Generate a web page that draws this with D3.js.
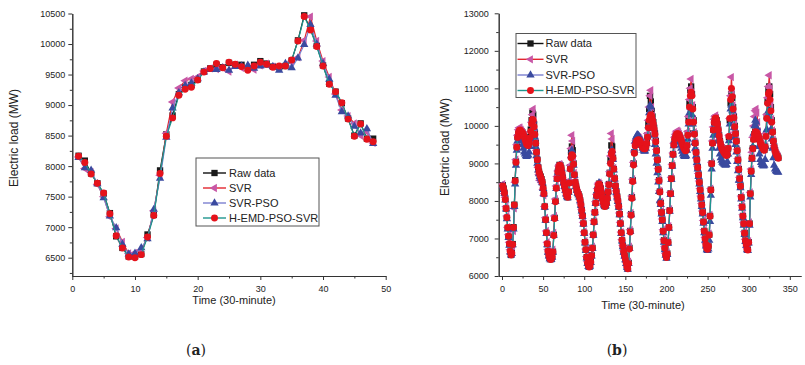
<!DOCTYPE html>
<html>
<head>
<meta charset="utf-8">
<script src="https://cdn.jsdelivr.net/npm/d3@7"></script>
<style>
  body { margin: 0; background: #fff; }
  text { font-family: "Liberation Sans", Arial, sans-serif; fill: #222; }
</style>
</head>
<body>
<svg id="chart" width="805" height="365"></svg>
<script>
// ---- data ----
const seriesNames = ["Raw data", "SVR", "SVR-PSO", "H-EMD-PSO-SVR"];

// panel (a): one day, 48 half-hour points, t = 1..48
const aXTicks = [0, 10, 20, 30, 40, 50];
const aYTicks = [6500, 7000, 7500, 8000, 8500, 9000, 9500, 10000, 10500];
const aRaw = [8170,8090,7880,7720,7550,7230,6850,6660, 6520,6520,6560,6880,7200,7930,8520,8830,
  9180,9290,9330,9420,9550,9600,9660,9620, 9690,9660,9660,9600,9660,9720,9680,9630,
  9620,9640,9730,10060,10470,10240,9970,9650, 9350,9220,9030,8780,8500,8700,8450,8450];
const aSvr = [8150,7960,7900,7700,7500,7170,6980,6760, 6570,6580,6620,6830,7270,7850,8540,9050,
  9280,9400,9430,9460,9560,9600,9590,9610, 9550,9660,9610,9620,9580,9650,9680,9630,
  9610,9660,9700,9780,10060,10450,10050,9720, 9460,9180,8920,8820,8700,8500,8560,8380];
const aPso = [8140,7970,7930,7710,7480,7180,6990,6720, 6560,6570,6660,6810,7290,7800,8470,8950,
  9200,9320,9360,9430,9540,9580,9580,9610, 9570,9630,9640,9650,9600,9640,9650,9630,
  9570,9680,9610,9770,9990,10320,10000,9680, 9420,9160,8890,8820,8650,8540,8610,8370];
const aEmd = [8160,8060,7870,7720,7560,7220,6860,6660, 6510,6500,6550,6840,7190,7880,8490,8790,
  9160,9260,9290,9410,9540,9600,9680,9610, 9700,9670,9630,9570,9640,9700,9670,9620,
  9640,9640,9740,10050,10450,10230,9960,9640, 9340,9220,9040,8770,8490,8690,8440,8400];

// panel (b): one week, 336 half-hour points, t = 1..336 (one line per day)
const bXTicks = [0, 50, 100, 150, 200, 250, 300, 350];
const bYTicks = [6000, 7000, 8000, 9000, 10000, 11000, 12000, 13000];
const bRaw = [
  8420,8330,8220,8050,7800,7550,7280,7050,6850,6650,6560,6620,6850,7300,7900,8550,9050,9450,9700,9820,9880,9900,9860,9850,9820,9780,9720,9650,9580,9520,9500,9480,9560,9700,9900,10150,10350,10300,10050,9800,9550,9300,9100,8900,8780,8700,8650,8580,
  8500,8350,8200,7850,7500,7150,6850,6650,6550,6480,6450,6460,6520,6650,7100,7550,8000,8350,8600,8780,8900,8960,8950,8880,8750,8620,8500,8400,8300,8200,8130,8100,8250,8500,8900,9300,9450,9350,9000,8700,8500,8400,8300,8220,8180,8120,8020,7900,
  7750,7600,7400,7150,6900,6700,6500,6350,6270,6250,6280,6380,6550,6750,7100,7450,7700,7950,8150,8300,8420,8460,8420,8330,8200,8080,7980,7900,7860,7880,7950,8080,8250,8450,8750,9100,9480,9450,9150,8850,8600,8400,8250,8120,8000,7850,7650,7400,
  7150,6950,6800,6650,6550,6450,6350,6250,6200,6350,6750,7200,7650,8100,8550,9000,9300,9500,9580,9620,9640,9650,9640,9600,9550,9500,9450,9420,9400,9400,9450,9550,9750,10050,10450,10800,10650,10400,10250,10100,9950,9800,9600,9350,9100,8850,8550,8250,
  7950,7700,7500,7200,6950,6750,6580,6500,6600,6900,7300,7750,8200,8600,8950,9250,9500,9650,9720,9780,9800,9800,9780,9740,9680,9620,9550,9480,9420,9380,9350,9360,9500,9800,10200,10600,10950,11050,10850,10500,10150,9800,9550,9300,9100,8900,8700,8500,
  8300,8100,7900,7700,7450,7200,7000,6850,6750,6720,6800,7100,7600,8300,9000,9550,9900,10100,10200,10220,10150,10050,9900,9750,9600,9500,9430,9380,9340,9300,9270,9250,9220,9250,9400,9700,10150,10600,10850,10750,10500,10250,10000,9800,9600,9350,9100,8850,
  8600,8400,8100,7850,7600,7400,7150,6950,6850,6720,6700,6900,7400,8200,8800,9150,9400,9650,9780,9850,9850,9820,9780,9720,9650,9580,9520,9470,9420,9380,9360,9450,9750,10250,10650,10950,11050,10850,10500,10150,9850,9600,9450,9350,9280,9230,9200,9150];
const bSvr = [
  8450,8350,8200,8100,7850,7600,7300,7100,6900,6700,6600,6600,6800,7200,7800,8500,9100,9500,9750,9900,9950,9950,9900,9870,9830,9800,9750,9680,9600,9550,9520,9500,9550,9650,9850,10100,10300,10450,10150,9850,9600,9350,9150,8900,8700,8550,8550,8500,
  8450,8300,8150,7850,7550,7200,6900,6700,6580,6500,6470,6480,6550,6700,7150,7600,8050,8400,8650,8800,8930,8980,8970,8900,8780,8650,8530,8420,8320,8230,8150,8120,8250,8550,8950,9400,9750,9600,9100,8750,8550,8420,8320,8240,8200,8140,8050,7920,
  7780,7620,7430,7180,6930,6720,6520,6380,6290,6270,6300,6400,6570,6780,7120,7480,7730,7980,8180,8330,8450,8490,8450,8360,8230,8100,8000,7920,7880,7900,7970,8100,8280,8480,8780,9200,9800,9650,9200,8880,8620,8420,8270,8140,8020,7870,7680,7430,
  7170,6970,6820,6670,6570,6470,6370,6270,6230,6380,6780,7230,7680,8130,8580,9030,9330,9530,9620,9660,9690,9700,9680,9640,9580,9530,9480,9450,9430,9430,9480,9600,9800,10150,10500,10800,10950,10500,10280,10120,9970,9820,9620,9370,9120,8870,8570,8270,
  7980,7730,7520,7230,6980,6780,6600,6530,6630,6930,7330,7780,8230,8630,8980,9280,9540,9700,9780,9840,9870,9860,9830,9780,9720,9650,9580,9500,9440,9400,9370,9390,9530,9850,10250,10700,11000,11250,10900,10550,10180,9830,9580,9330,9130,8930,8730,8530,
  8330,8130,7930,7730,7480,7230,7030,6880,6780,6750,6830,7130,7630,8330,9030,9600,9970,10180,10260,10280,10200,10080,9930,9780,9630,9530,9460,9410,9370,9330,9300,9280,9250,9280,9430,9750,10200,10800,11300,10900,10550,10300,10050,9830,9630,9380,9130,8880,
  8630,8430,8130,7880,7630,7430,7180,6980,6880,6750,6730,6930,7430,8230,8850,9300,9700,10000,10250,10400,10450,10350,10100,9850,9700,9620,9560,9500,9450,9410,9390,9480,9800,10300,10750,11050,11350,11000,10550,10180,9880,9630,9480,9380,9310,9260,9230,9180];
const bPso = [
  8400,8300,8200,8020,7780,7520,7250,7020,6820,6640,6560,6600,6830,7250,7850,8450,8950,9350,9600,9700,9720,9700,9650,9600,9500,9400,9300,9250,9200,9180,9200,9220,9300,9450,9650,9900,10050,10150,9950,9700,9450,9200,9000,8820,8720,8650,8600,8550,
  8480,8330,8180,7830,7480,7130,6830,6630,6530,6460,6430,6440,6500,6630,7080,7530,7980,8330,8580,8760,8880,8940,8930,8860,8730,8600,8480,8380,8280,8180,8110,8080,8230,8470,8850,9200,9350,9250,8950,8680,8480,8380,8280,8200,8160,8100,8000,7880,
  7730,7580,7380,7130,6880,6680,6480,6330,6250,6230,6260,6360,6530,6730,7080,7430,7680,7930,8130,8280,8400,8480,8440,8340,8200,8070,7970,7890,7850,7870,7940,8070,8240,8430,8720,9050,9350,9350,9100,8820,8580,8380,8230,8100,7980,7830,7630,7380,
  7130,6930,6780,6630,6530,6430,6330,6230,6180,6330,6730,7180,7630,8080,8530,8980,9350,9600,9700,9750,9760,9740,9700,9650,9570,9480,9400,9350,9320,9330,9400,9520,9700,10000,10350,10550,10500,10250,10100,9920,9750,9500,9250,9000,8750,8500,8250,8000,
  7900,7650,7450,7150,6900,6700,6550,6470,6570,6870,7270,7720,8170,8570,8920,9220,9470,9600,9650,9680,9680,9660,9620,9560,9480,9400,9320,9250,9200,9180,9180,9200,9350,9650,10050,10350,10500,10450,10300,10050,9800,9550,9400,9200,9020,8850,8650,8450,
  8250,8050,7850,7650,7400,7150,6950,6800,6700,6680,6720,6950,7450,8150,8850,9400,9750,9950,10050,10050,9950,9800,9600,9400,9250,9150,9080,9030,9000,8980,8960,8950,8970,9050,9250,9600,10050,10450,10550,10400,10200,9950,9700,9500,9300,9050,8800,8550,
  8550,8350,8050,7800,7550,7350,7100,6920,6820,6700,6680,6880,7350,8100,8700,9100,9450,9800,10000,10150,10100,9950,9700,9450,9250,9100,9020,8970,8950,8930,8950,9100,9450,9900,10250,10400,10350,10150,9900,9650,9400,9150,8950,8850,8800,8780,8770,8760];
const bEmd = [
  8400,8320,8210,8040,7800,7560,7290,7060,6860,6660,6560,6610,6840,7290,7890,8530,9030,9430,9690,9810,9870,9890,9860,9840,9810,9770,9710,9640,9570,9510,9490,9480,9550,9680,9850,10050,10170,10150,9980,9770,9540,9300,9100,8900,8780,8700,8640,8570,
  8490,8340,8190,7850,7500,7150,6860,6660,6550,6470,6440,6450,6510,6640,7080,7530,7980,8340,8590,8770,8890,8950,8940,8870,8740,8610,8490,8390,8290,8200,8130,8100,8240,8480,8850,9150,9230,9200,8980,8700,8500,8400,8300,8220,8180,8120,8020,7900,
  7750,7600,7400,7150,6900,6700,6500,6350,6270,6240,6270,6370,6540,6740,7090,7440,7690,7940,8140,8290,8410,8450,8410,8320,8190,8070,7970,7890,7850,7870,7940,8070,8240,8430,8720,9000,9250,9320,9130,8850,8600,8400,8250,8120,8000,7850,7650,7400,
  7150,6950,6800,6650,6550,6450,6350,6250,6190,6330,6720,7170,7620,8070,8520,8960,9270,9470,9560,9600,9620,9630,9620,9580,9530,9480,9430,9400,9390,9390,9440,9530,9700,9950,10150,10250,10300,10250,10150,10050,9920,9780,9580,9340,9090,8840,8540,8240,
  7930,7690,7490,7190,6940,6740,6570,6490,6590,6890,7290,7740,8190,8590,8940,9240,9490,9640,9710,9770,9790,9790,9770,9730,9670,9610,9540,9470,9410,9370,9340,9350,9480,9750,10100,10500,10800,10900,10800,10450,10100,9780,9540,9290,9090,8890,8690,8490,
  8290,8090,7890,7690,7440,7190,6990,6840,6740,6710,6790,7090,7590,8290,8990,9540,9890,10090,10190,10210,10140,10040,9890,9740,9590,9490,9420,9370,9330,9290,9260,9240,9210,9240,9400,9720,10200,10700,11000,10780,10450,10220,9980,9790,9590,9340,9090,8840,
  8590,8390,8090,7840,7590,7390,7140,6940,6840,6710,6690,6890,7390,8190,8790,9140,9390,9640,9770,9840,9840,9810,9770,9710,9640,9570,9510,9460,9410,9370,9350,9440,9720,10200,10600,10850,10900,10700,10400,10100,9830,9590,9440,9340,9270,9220,9190,9140];

// ---- styles ----
const styles = [
  { line: "#111111", fill: "#1a1a1a", symbol: d3.symbolSquare, size: 40, rot: 0 },
  { line: "#e3262f", fill: "#c857a6", symbol: d3.symbolTriangle, size: 30, rot: -90 },
  { line: "#7b80d0", fill: "#3a4a9f", symbol: d3.symbolTriangle, size: 30, rot: 0 },
  { line: "#1f968e", fill: "#e5121b", symbol: d3.symbolCircle, size: 38, rot: 0 }
];

const svg = d3.select("#chart");
svg.append("rect").attr("width", 805).attr("height", 365).attr("fill", "#fff");

function drawPanel(o) {
  const x = d3.scaleLinear().domain(o.xDomain).range(o.xRange);
  const y = d3.scaleLinear().domain(o.yDomain).range(o.yRange);
  const g = svg.append("g");

  // minor ticks
  g.append("g").attr("transform", `translate(0,${o.yRange[0]})`)
    .call(d3.axisBottom(x).tickValues(o.xMinor).tickSize(2.5).tickSizeOuter(0).tickFormat(""));
  g.append("g").attr("transform", `translate(${o.xRange[0]},0)`)
    .call(d3.axisLeft(y).tickValues(o.yMinor).tickSize(2.5).tickSizeOuter(0).tickFormat(""));

  // major ticks
  const xa = g.append("g").attr("transform", `translate(0,${o.yRange[0]})`)
    .call(d3.axisBottom(x).tickValues(o.xTicks).tickSize(4).tickSizeOuter(0).tickPadding(6).tickFormat(d3.format("d")));
  const ya = g.append("g").attr("transform", `translate(${o.xRange[0]},0)`)
    .call(d3.axisLeft(y).tickValues(o.yTicks).tickSize(4).tickSizeOuter(0).tickPadding(o.yPad).tickFormat(d3.format("d")));
  g.selectAll(".domain, .tick line").attr("stroke", "#333").attr("stroke-width", 1);
  g.selectAll(".tick text").attr("font-size", 9).attr("fill", "#333")
    .attr("font-family", "'Liberation Sans', Arial, sans-serif");

  // titles
  g.append("text").attr("x", o.xTitle[0]).attr("y", o.xTitle[1])
    .attr("text-anchor", "middle").attr("font-size", 11).text("Time (30-minute)");
  g.append("text").attr("transform", `translate(${o.yTitle[0]},${o.yTitle[1]}) rotate(-90)`)
    .attr("text-anchor", "middle").attr("font-size", 12).text("Electric load (MW)");

  // series
  const line = d3.line().x((d, i) => x(o.t0 + i)).y(d => y(d));
  o.series.forEach((vals, k) => {
    const s = styles[k];
    g.append("path").datum(vals).attr("fill", "none")
      .attr("stroke", s.line).attr("stroke-width", 1.2).attr("d", line);
    g.append("g").selectAll("path").data(vals).join("path")
      .attr("transform", (d, i) => `translate(${x(o.t0 + i)},${y(d)}) rotate(${s.rot})`)
      .attr("d", d3.symbol(s.symbol, s.size)())
      .attr("fill", s.fill);
  });

  // legend
  const L = o.legend;
  const lg = g.append("g");
  lg.append("rect").attr("x", L.x).attr("y", L.y).attr("width", L.w).attr("height", L.h)
    .attr("fill", "#fff").attr("stroke", "#555").attr("stroke-width", 1);
  seriesNames.forEach((name, k) => {
    const s = styles[k];
    const ry = L.rows[k];
    lg.append("line").attr("x1", L.lx0).attr("x2", L.lx1).attr("y1", ry).attr("y2", ry)
      .attr("stroke", s.line).attr("stroke-width", 1.4);
    lg.append("path").attr("transform", `translate(${(L.lx0 + L.lx1) / 2},${ry}) rotate(${s.rot})`)
      .attr("d", d3.symbol(s.symbol, s.size)()).attr("fill", s.fill);
    lg.append("text").attr("x", L.tx).attr("y", ry).attr("dy", "0.36em")
      .attr("font-size", 11).text(name);
  });

  // sub-figure label
  const lab = g.append("text").attr("x", o.label[0]).attr("y", o.label[1])
    .attr("text-anchor", "middle").attr("font-size", 14)
    .style("font-family", "'DejaVu Serif', 'Liberation Serif', serif");
  lab.append("tspan").text("(");
  lab.append("tspan").attr("font-weight", "bold").text(o.label[2]);
  lab.append("tspan").text(")");
}

drawPanel({
  xDomain: [0, 50], xRange: [72.3, 385.7],
  yDomain: [6200, 10500], yRange: [276, 13.5],
  xTicks: aXTicks, yTicks: aYTicks,
  xMinor: aXTicks.slice(0, -1).map(v => v + 5),
  yMinor: [6250].concat(aYTicks.map(v => v + 250).slice(0, -1)),
  yPad: 3,
  t0: 1,
  series: [aRaw, aSvr, aPso, aEmd],
  xTitle: [234, 304], yTitle: [18, 138],
  legend: { x: 196, y: 158, w: 123, h: 68, rows: [173, 188, 203, 218], lx0: 203, lx1: 226, tx: 229 },
  label: [196, 355, "a"]
});

drawPanel({
  xDomain: [-4, 363.6], xRange: [498.7, 801],
  yDomain: [6000, 13000], yRange: [276, 13.3],
  xTicks: bXTicks, yTicks: bYTicks,
  xMinor: bXTicks.slice(0, -1).map(v => v + 25),
  yMinor: bYTicks.slice(0, -1).map(v => v + 500),
  yPad: 6,
  t0: 1,
  series: [bRaw, bSvr, bPso, bEmd],
  xTitle: [643, 309], yTitle: [449, 147],
  legend: { x: 516, y: 33.5, w: 120, h: 64, rows: [43.5, 59.3, 75, 90.5], lx0: 517.5, lx1: 543.5, tx: 545.5 },
  label: [617, 355, "b"]
});
</script>
</body>
</html>
